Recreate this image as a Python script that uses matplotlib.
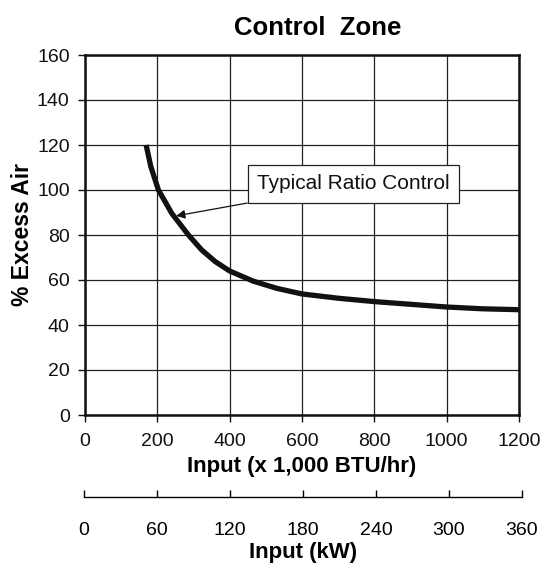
import numpy as np
import matplotlib.pyplot as plt

plt.rcParams['font.family'] = ['Liberation Sans', 'DejaVu Sans']

# curve
x_btu = [169, 182, 203, 240, 286, 323, 360, 400, 465, 530, 600, 700, 800, 900, 1000, 1100, 1200]
y_air = [120, 110.4, 100, 89.6, 80, 73.3, 68.2, 64, 59.5, 56.3, 53.8, 51.9, 50.4, 49.2, 48, 47.2, 46.8]

x_ticks = [0, 200, 400, 600, 800, 1000, 1200]
y_ticks = [0, 20, 40, 60, 80, 100, 120, 140, 160]
kw_ticks = [0, 60, 120, 180, 240, 300, 360]

fig = plt.figure(figsize=(5.43, 5.66), dpi=100)
ax = fig.add_axes([85/543, 1 - 415/566, 434/543, 360/566])

ax.plot(x_btu, y_air, color='#111111', lw=3.8, solid_capstyle='butt',
        solid_joinstyle='round', zorder=3)

ax.set_xlim(0, 1200)
ax.set_ylim(0, 160)
ax.set_xticks(x_ticks)
ax.set_yticks(y_ticks)
ax.grid(True, color='#222222', lw=0.9)
ax.set_axisbelow(True)
for s in ax.spines.values():
    s.set_linewidth(1.8)
    s.set_color('#111111')
ax.tick_params(labelsize=14, length=5, width=1, colors='#111111', pad=6)
ax.tick_params(axis='x', pad=8)
ax.set_xlabel('Input (x 1,000 BTU/hr)', fontsize=16, fontweight='bold', labelpad=4)
ax.set_ylabel('% Excess Air', fontsize=16.5, fontweight='bold', labelpad=2)

ax.annotate('Typical Ratio Control', xy=(252, 88.5), xytext=(742, 102.7),
            fontsize=15, ha='center', va='center', color='#111111',
            bbox=dict(boxstyle='square,pad=0.45', fc='white', ec='#222222', lw=0.9),
            arrowprops=dict(arrowstyle='-|>', color='#111111', lw=0.9,
                            mutation_scale=13, shrinkA=0, shrinkB=0),
            zorder=4)

fig.text(318/543, 1 - 28/566, 'Control  Zone', fontsize=18.5, fontweight='bold',
         ha='center', va='center')

# second scale in kW
ax2 = fig.add_axes([84/543, 1 - 497/566, 438/543, 0.0001])
ax2.set_xlim(0, 360)
ax2.set_xticks(kw_ticks)
ax2.set_yticks([])
for k in ['top', 'left', 'right']:
    ax2.spines[k].set_visible(False)
ax2.spines['bottom'].set_linewidth(1)
ax2.tick_params(axis='x', direction='in', length=5, width=1, labelsize=14, pad=18)
ax2.set_xlabel('Input (kW)', fontsize=16, fontweight='bold', labelpad=2)

fig.savefig('out.png', dpi=100)
